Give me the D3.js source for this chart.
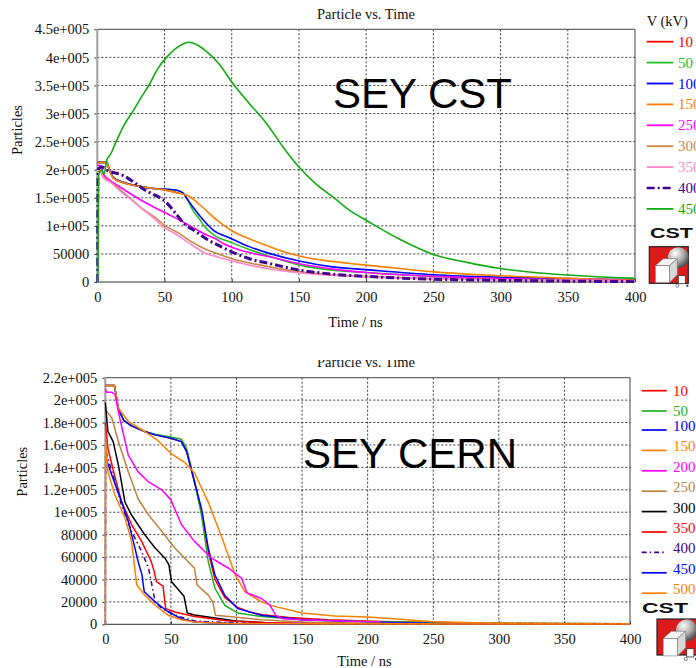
<!DOCTYPE html>
<html><head><meta charset="utf-8">
<script src="https://cdn.jsdelivr.net/npm/d3@7"></script>
<style>
html,body{margin:0;padding:0;background:#fff;}
svg{display:block;}
</style></head><body>
<svg id="chart" width="696" height="668"></svg>
<script>
// ---------------- DATA (time in ns, particles in thousands) ----------------
const xTicks = [0, 50, 100, 150, 200, 250, 300, 350, 400];
const xTickLabels = ["0", "50", "100", "150", "200", "250", "300", "350", "400"];

const cstYTicks = [0, 50, 100, 150, 200, 250, 300, 350, 400, 450];
const cstYTickLabels = ["0", "50000", "1e+005", "1.5e+005", "2e+005", "2.5e+005", "3e+005", "3.5e+005", "4e+005", "4.5e+005"];

const cernYTicks = [0, 20, 40, 60, 80, 100, 120, 140, 160, 180, 200, 220];
const cernYTickLabels = ["0", "20000", "40000", "60000", "80000", "1e+005", "1.2e+005", "1.4e+005", "1.6e+005", "1.8e+005", "2e+005", "2.2e+005"];

// --- SEY CST (top) ---
const cstVoltages = ["10", "50", "100", "150", "250", "300", "350", "400", "450"];
const cst10 = [[0,213],[7,213],[9,199],[12,185],[19,177],[32,170],[50,164],[61,158]];
const cst50 = [[0,213],[7,213],[9,200],[12,186],[20,177],[30,171],[40,167],[50,165],[60,163],[64,158],[67,147],[71,128],[76,112],[79,101],[86,85],[99,71],[113,58],[128,46],[151,30],[175,21],[200,17],[250,10],[300,6],[350,4],[400,3]];
const cst100 = [[0,213],[7,213],[9,200],[12,186],[20,177],[30,171],[40,167],[50,165.5],[60,163],[64,158],[66,151],[71,134],[79,110],[86,93],[99,78],[113,63],[128,51],[151,37],[175,27],[200,22],[250,13],[300,8.5],[350,6],[400,4]];
const cst150 = [[0,213],[7,213],[9,199],[12,185],[19,177],[32,170],[50,164],[61,158],[68,153],[76,138],[89,110],[101,90],[113,77],[126,65],[140,53],[151,46],[170,38],[188,33],[200,30],[225,24],[250,18],[275,14],[300,11],[325,9],[350,6.5],[375,5],[400,3.5]];
const cst250 = [[0,208],[3,207],[4.5,192],[9.4,181],[19,166],[29.5,150],[44,131],[56.5,116],[69,100],[81,84],[88,77],[94,68],[106,57],[118,50],[128,45],[151,32],[175,23],[200,17],[250,10],[300,6],[350,4],[400,2.5]];
const cst300 = [[0,195],[2,198],[4.5,187],[10,178],[19,160],[24,150],[35,128],[43,115],[50,101],[60,88],[70,72],[81,58],[90,50],[101,41],[115,33],[128,27],[151,18],[175,13],[200,10],[250,6],[300,4],[350,3],[400,2]];
const cst350 = [[0,200],[2,198],[4.5,186],[10,177],[19,158],[24,149],[35,127],[43,112],[48,100],[58,86],[68,70],[79,53],[90,44],[101,37],[115,29],[128,23],[151,16],[175,12],[200,9],[250,5.5],[300,4],[350,3],[400,2]];
const cst400 = [[0,0],[0.5,200],[3,205],[8,198],[19,190],[27,178],[34,166],[40,158],[46.6,150],[52,140],[58,123],[65,103],[72,92],[81,77],[92,63],[103.6,50],[115,40],[128,33],[151,21],[175,14],[200,10],[250,5],[300,3],[350,1.5],[400,0.6]];
const cst450 = [[0.5,0],[1,190],[2,197],[3,200],[5,192],[7,217],[10,228],[14,250],[20,280],[27,306],[33,330],[39,353],[45,380],[51.5,400],[58,415],[63,423],[68,427],[73,424],[80,413],[90,390],[101,353],[113,318],[126,282],[138,241],[151,202],[163,174],[175,152],[188,127],[200,110],[225,76],[250,49],[275,35],[300,24],[325,17],[350,12.5],[375,9],[400,6.5]];
const cstData = [cst10, cst50, cst100, cst150, cst250, cst300, cst350, cst400, cst450];

// --- SEY CERN (bottom) ---
const cernVoltages = ["10", "50", "100", "150", "200", "250", "300", "350", "400", "450", "500"];
const cern10 = [[0,213],[7,213],[10,192],[14,182],[20,177],[30,172],[38,169],[50,166],[58,163],[62,154],[68,127],[73.4,100],[78.5,65],[83.6,40],[91,24],[101,15],[110,11],[120,8.5],[140,6],[170,4],[210,2.5],[250,1.5],[300,1],[400,0.5]];
const cern50 = [[0,213],[7,213],[10,192],[14,182],[20,177],[30,172],[38,169.5],[50,167],[58,165],[62,157],[68,128],[73.4,97],[78.5,56],[83.6,32],[91,17],[101,10],[119,7],[150,4],[200,2.5],[250,1.5],[300,1],[400,0.5]];
const cern100 = [[0,213],[7,213],[10,192],[14,182],[20,177],[30,172],[38,169],[50,166],[58,163],[62,154],[68,127],[73.4,103],[78.5,68],[83.6,44],[91,26],[101,14],[119,8],[150,4],[200,2],[250,1],[300,0.5],[400,0.3]];
const cern150 = [[0,213],[7,213],[10,193],[17.5,181],[30,172],[40,164],[50.5,152],[61,144],[68,135],[78.5,109],[89,77],[99,44],[106.5,29],[119,20],[129,16],[150,10],[175,7.5],[200,6.5],[225,4.5],[250,2.3],[300,1],[350,0.6],[400,0.5]];
const cern200 = [[0,210],[1,207],[5,207],[7.4,205],[11,184],[17.5,151],[25,136],[33,127],[43,120],[50,111],[58,89],[68,74],[81,59],[94,50],[104,41],[108,28],[119,23],[125.5,17],[130,8],[135,5],[150,4],[180,3],[210,2]];
const cern250 = [[0,192],[1,190],[5,184],[10,163],[17.5,136],[25,112],[33,97.5],[43,83],[53,68],[63,56],[68,50],[70,35],[78.5,26],[82,20],[84,8],[94,7],[119,4],[150,2],[200,1],[250,0.5]];
const cern300 = [[0,198],[2,172],[6,163],[10,142],[15,109],[20,97.5],[30,80],[38,68],[45.5,59],[48.5,53],[50.5,38],[55.6,31],[60,25],[62.5,10],[68,8.3],[81,6],[100,3],[130,1],[160,0.5]];
const cern350 = [[0,180],[2,157],[7,133],[12.5,109],[20,89],[27.7,74],[35,56],[37.3,47],[39,38],[44,34],[46,14],[53,11],[68,7],[94,3],[120,1.5],[160,0.5]];
const cern400 = [[0,0],[0.3,155],[5,136],[12.5,106],[20,83],[27.7,65],[33,50],[35,38],[38,20],[43,14],[56,7],[68,3],[100,1],[150,0.3],[400,0.2]];
const cern450 = [[0,150],[5,133],[12.5,109],[17.5,92],[22.6,68],[25,56],[28,44],[29.7,29],[38,20],[48,11],[58,5],[68,2],[100,0.5],[150,0.2]];
const cern500 = [[0,0],[0.3,163],[2,136],[7.4,115],[15,95],[20,74],[24,35],[30,26],[38,17],[48,8],[58,4],[68,2],[100,0.5],[400,0.3]];
const cernData = [cern10, cern50, cern100, cern150, cern200, cern250, cern300, cern350, cern400, cern450, cern500];

// ---------------- STYLES ----------------
const cstColors = ["#ff0000","#22c022","#0000ff","#ff8000","#ff00ff","#c8864a","#ff88c8","#400090","#11aa11"];
const cstWidths = [1.6,1.6,1.6,1.6,1.6,1.6,1.6,3,1.6];
const cstDashes = [null,null,null,null,null,null,null,"8,3,2,3",null];
const cernColors = ["#ff0000","#22b022","#0000ff","#ff8000","#ff00ff","#c08040","#000000","#ff0000","#400090","#0000ff","#ff8000"];
const cernWidths = [1.5,1.5,1.5,1.5,1.5,1.5,1.5,1.5,1.5,1.5,1.5];
const cernDashes = [null,null,null,null,null,null,null,null,"5,3,1.5,3",null,null];

const serif = "'Liberation Serif','Times New Roman',serif";
const sans = "'Liberation Sans',Arial,sans-serif";
const svg = d3.select("#chart");

const panels = [
  { id:"cst", x0:97.3, x1:635, yTop:29.3, yBot:282, yMax:450,
    yTicks:cstYTicks, yLabels:cstYTickLabels, data:cstData, names:cstVoltages,
    colors:cstColors, widths:cstWidths, dashes:cstDashes, curve:d3.curveMonotoneX,
    title:[366,18.5], xlab:[355.5,327], ylab:[17,130], xPad:9.3,
    big:"SEY CST", bigPos:[333,108],
    legTitle:[646.7,26], legX:[646.7,673.3,678], legRow:(i)=>({t:41.7+i*20.9, l:41.7+i*20.9}),
    logo:{tx:650, ty:238, tw:43, bx:649.3, by:246.7, bw:39, bh:36.6} },
  { id:"cern", x0:105.3, x1:630, yTop:377.7, yBot:624.3, yMax:220,
    yTicks:cernYTicks, yLabels:cernYTickLabels, data:cernData, names:cernVoltages,
    colors:cernColors, widths:cernWidths, dashes:cernDashes, curve:d3.curveLinear,
    title:[366,366.5], xlab:[364.5,666], ylab:[22,471.7], xPad:9,
    big:"SEY CERN", bigPos:[303,468],
    legTitle:null, legX:[641.7,666.7,673],
    legRow:(i)=>{ const t = i<2 ? 390.7+i*20.3 : 426+(i-2)*20.4; return {t:t, l: i<2 ? t : t+4}; },
    logo:{tx:642, ty:613, tw:46, bx:657, by:619, bw:40, bh:36} }
];

const defs = svg.append("defs");
const grad = defs.append("radialGradient").attr("id","sph").attr("cx","35%").attr("cy","30%").attr("r","70%");
grad.append("stop").attr("offset","0%").attr("stop-color","#ffffff");
grad.append("stop").attr("offset","60%").attr("stop-color","#a8a8a8");
grad.append("stop").attr("offset","100%").attr("stop-color","#505050");

panels.forEach(p => {
  const x = d3.scaleLinear().domain([0,400]).range([p.x0,p.x1]);
  const y = d3.scaleLinear().domain([0,p.yMax]).range([p.yBot,p.yTop]);
  const g = svg.append("g");

  // title
  g.append("text").attr("x",p.title[0]).attr("y",p.title[1]).attr("text-anchor","middle")
    .attr("font-family",serif).attr("font-size",14.5).attr("fill","#111").text("Particle vs. Time");

  // grid
  const grid = g.append("g").attr("stroke","#222").attr("stroke-width",0.9).attr("stroke-dasharray","2,2");
  grid.selectAll("line.h").data(p.yTicks.slice(1,-1)).join("line")
    .attr("x1",p.x0).attr("x2",p.x1).attr("y1",d=>y(d)).attr("y2",d=>y(d));
  grid.selectAll("line.v").data(xTicks.slice(1,-1)).join("line").attr("class","v")
    .attr("y1",p.yTop).attr("y2",p.yBot).attr("x1",d=>x(d)).attr("x2",d=>x(d));

  // axes
  const ya = g.append("g").attr("transform",`translate(${p.x0},0)`)
    .call(d3.axisLeft(y).tickValues(p.yTicks).tickFormat((d,i)=>p.yLabels[i]).tickSize(3).tickPadding(5));
  const xa = g.append("g").attr("transform",`translate(0,${p.yBot})`)
    .call(d3.axisBottom(x).tickValues(xTicks).tickFormat((d,i)=>xTickLabels[i]).tickSizeInner(-3).tickSizeOuter(0).tickPadding(p.xPad));
  [ya,xa].forEach(a=>{
    a.select(".domain").remove();
    a.selectAll("text").attr("font-family",serif).attr("font-size",14.5).attr("fill","#111");
    a.selectAll("line").attr("stroke","#333");
  });

  // frame
  g.append("line").attr("x1",p.x0).attr("x2",p.x1).attr("y1",p.yTop).attr("y2",p.yTop).attr("stroke","#444").attr("stroke-width",1);
  g.append("line").attr("x1",p.x1).attr("x2",p.x1).attr("y1",p.yTop).attr("y2",p.yBot).attr("stroke","#444").attr("stroke-width",1);
  g.append("line").attr("x1",p.x0).attr("x2",p.x1).attr("y1",p.yBot).attr("y2",p.yBot).attr("stroke","#333").attr("stroke-width",1);
  g.append("line").attr("x1",p.x0).attr("x2",p.x0).attr("y1",p.yTop).attr("y2",p.yBot).attr("stroke","#a0a0a0").attr("stroke-width",2);

  // axis labels
  g.append("text").attr("x",p.xlab[0]).attr("y",p.xlab[1]).attr("text-anchor","middle")
    .attr("font-family",serif).attr("font-size",14.5).attr("fill","#111").text("Time / ns");
  g.append("text").attr("transform",`translate(${p.ylab[0]},${p.ylab[1]}) rotate(-90)`)
    .attr("text-anchor","middle").attr("dominant-baseline","central")
    .attr("font-family",serif).attr("font-size",14.5).attr("fill","#111").text("Particles");

  // series
  defs.append("clipPath").attr("id","clip-"+p.id).append("rect")
    .attr("x",p.x0-1).attr("y",p.yTop).attr("width",p.x1-p.x0+1).attr("height",p.yBot-p.yTop+1);
  const line = d3.line().x(d=>x(d[0])).y(d=>y(d[1])).curve(p.curve);
  const sg = g.append("g").attr("clip-path",`url(#clip-${p.id})`);
  p.data.forEach((s,i)=>{
    sg.append("path").attr("d",line(s)).attr("fill","none")
      .attr("stroke",p.colors[i]).attr("stroke-width",p.widths[i])
      .attr("stroke-dasharray",p.dashes[i]).attr("stroke-linejoin","round");
  });

  // big annotation
  g.append("text").attr("x",p.bigPos[0]).attr("y",p.bigPos[1]).attr("font-family",sans)
    .attr("font-size",42).attr("fill","#000").text(p.big);

  // legend
  if (p.legTitle) g.append("text").attr("x",p.legTitle[0]).attr("y",p.legTitle[1])
    .attr("font-family",serif).attr("font-size",14.5).attr("fill","#111").text("V (kV)");
  p.names.forEach((n,i)=>{
    const r = p.legRow(i);
    g.append("line").attr("x1",p.legX[0]).attr("x2",p.legX[1]).attr("y1",r.l).attr("y2",r.l)
      .attr("stroke",p.colors[i]).attr("stroke-width",Math.min(p.widths[i],2.5)+0.2).attr("stroke-dasharray",p.dashes[i]);
    g.append("text").attr("x",p.legX[2]).attr("y",r.t).attr("dominant-baseline","central")
      .attr("font-family",serif).attr("font-size",15).attr("fill",p.colors[i]).text(n);
  });

  // CST logo
  const L = p.logo;
  g.append("text").attr("x",L.tx).attr("y",L.ty).attr("font-family",sans).attr("font-weight","bold")
    .attr("font-size",15).attr("textLength",L.tw).attr("lengthAdjust","spacingAndGlyphs").attr("fill","#111").text("CST");
  const lg = g.append("g").attr("transform",`translate(${L.bx},${L.by})`);
  lg.append("rect").attr("width",L.bw).attr("height",L.bh).attr("fill","#dd1a1a").attr("stroke","#222").attr("stroke-width",1.2);
  const s = L.bw/39;
  lg.append("circle").attr("cx",29*s).attr("cy",11*s).attr("r",10.5*s).attr("fill","url(#sph)");
  lg.append("polygon").attr("points",[[6*s,19*s],[14*s,12*s],[28*s,12*s],[20*s,19*s]].join(" ")).attr("fill","#f4f4f4").attr("stroke","#777").attr("stroke-width",0.6);
  lg.append("polygon").attr("points",[[20*s,19*s],[28*s,12*s],[28*s,28*s],[20*s,36*s]].join(" ")).attr("fill","#d8d8d8").attr("stroke","#777").attr("stroke-width",0.6);
  lg.append("rect").attr("x",6*s).attr("y",19*s).attr("width",14*s).attr("height",17*s).attr("fill","#fff").attr("stroke","#777").attr("stroke-width",0.6);
  lg.append("rect").attr("x",29*s).attr("y",29*s).attr("width",7*s).attr("height",8*s).attr("fill","#fff").attr("stroke","#333").attr("stroke-width",0.8);
  lg.append("circle").attr("cx",28*s).attr("cy",39*s).attr("r",1.6*s).attr("fill","#fff").attr("stroke","#333").attr("stroke-width",0.6);
  lg.append("circle").attr("cx",38*s).attr("cy",39*s).attr("r",1.2*s).attr("fill","#555");
});

// the second picture is cropped at its top edge
svg.append("rect").attr("x",0).attr("y",338).attr("width",696).attr("height",22).attr("fill","#fff");
</script></body></html>
